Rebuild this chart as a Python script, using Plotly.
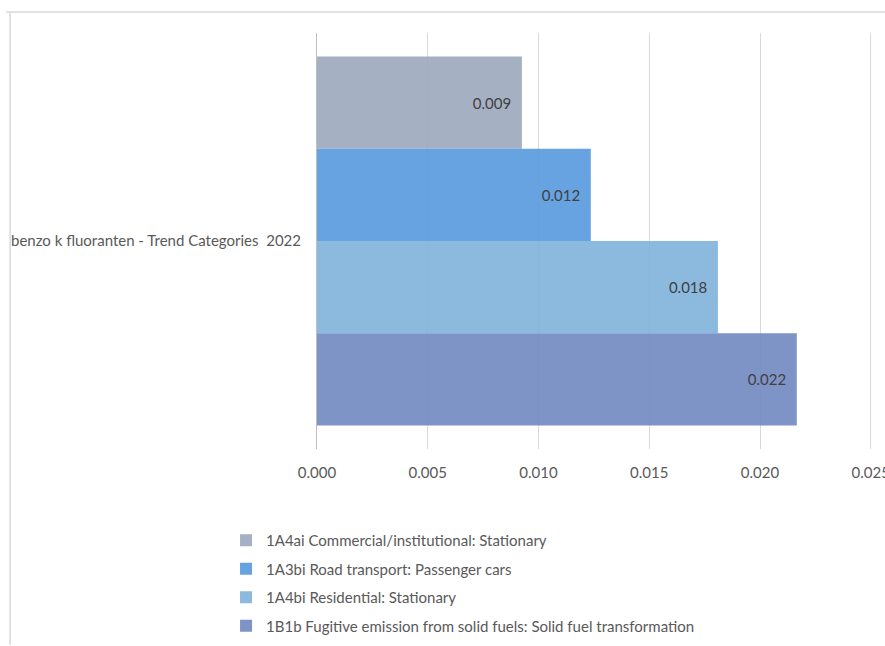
import plotly.graph_objects as go

category = ["benzo k fluoranten - Trend Categories  2022"]
series_names = [
    "1A4ai Commercial/institutional: Stationary",
    "1A3bi Road transport: Passenger cars",
    "1A4bi Residential: Stationary",
    "1B1b Fugitive emission from solid fuels: Solid fuel transformation",
]
series_values = [0.00925, 0.01236, 0.0181, 0.02166]
series_colors = [
    "rgba(155,167,189,0.9)",
    "rgba(85,153,221,0.9)",
    "rgba(128,177,218,0.9)",
    "rgba(113,136,192,0.9)",
]
x_ticks = [0.0, 0.005, 0.010, 0.015, 0.020, 0.025]

FONT = "Lato"
FS = 15
fig = go.Figure()
for i, (name, val, col) in enumerate(zip(series_names, series_values, series_colors)):
    fig.add_trace(go.Bar(
        y=category, x=[val], name=name, orientation="h",
        marker=dict(color=col, line=dict(width=0)),
        text=[f"{val:.3f}\u00a0\u00a0"], textposition="inside", insidetextanchor="end",
        textfont=dict(family=FONT, size=FS, color="#404040"),
        legendgroup=f"g{i}", cliponaxis=False,
    ))

# body margin is removed by post_script, so figure coords == screen coords
W, H = 885, 646
XMAX = 0.0251
SCALE = (871 - 317) / 0.025  # px per unit
L, T, B = 317, 33, 646 - 449
pw = XMAX * SCALE
R = W - L - pw
ph = H - T - B

def px_x(x):  # screen x -> paper
    return (x - L) / pw

def px_y(y):  # screen y -> paper
    return (H - B - y) / ph

fig.update_layout(
    width=W, height=H,
    margin=dict(l=L, r=R, t=T, b=B, pad=0, autoexpand=False),
    paper_bgcolor="white", plot_bgcolor="white",
    barmode="group", bargap=0.113,
    font=dict(family=FONT, size=FS, color="#595959"),
    showlegend=True,
    legend=dict(
        orientation="v", x=px_x(226), y=px_y(524), xanchor="left", yanchor="top",
        font=dict(family=FONT, size=FS, color="#595959"),
        tracegroupgap=6, itemwidth=30, bgcolor="rgba(0,0,0,0)",
    ),
    xaxis=dict(
        range=[0, XMAX], tickvals=x_ticks, ticktext=[f"{v:.3f}" for v in x_ticks],
        showgrid=True, gridcolor="#d9d9d9", gridwidth=1,
        zeroline=False, showline=False, automargin=False,
        ticks="outside", ticklen=10, tickcolor="rgba(0,0,0,0)",
        ticklabeloverflow="allow",
        tickfont=dict(family=FONT, size=FS, color="#595959"),
    ),
    yaxis=dict(
        autorange="reversed", showgrid=False, zeroline=False, automargin=False,
        showline=True, linecolor="#bfbfbf", linewidth=1,
        ticks="outside", ticklen=12, tickcolor="rgba(0,0,0,0)",
        tickfont=dict(family=FONT, size=FS, color="#595959"),
    ),
    shapes=[
        dict(type="line", xref="paper", yref="paper",
             x0=px_x(10), x1=px_x(10), y0=px_y(12), y1=px_y(645),
             line=dict(color="#d9d9d9", width=1.5)),
        dict(type="line", xref="paper", yref="paper",
             x0=px_x(6), x1=px_x(900), y0=px_y(12), y1=px_y(12),
             line=dict(color="#d9d9d9", width=1.5)),
    ],
)

fig.write_html(
    "out.html",
    config={"displayModeBar": False},
    post_script="document.body.style.margin='0';document.body.style.overflow='hidden';",
)
